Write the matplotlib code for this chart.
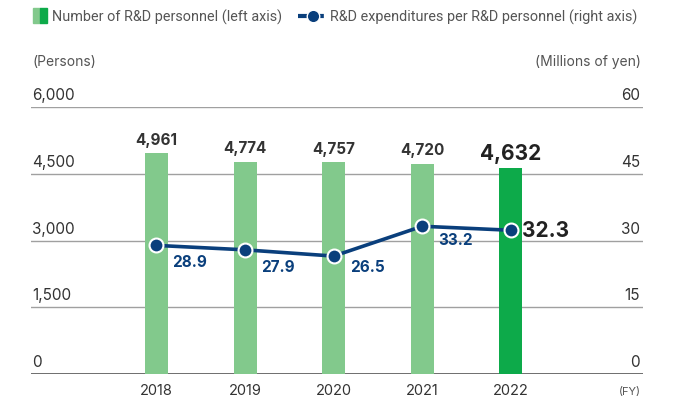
import matplotlib
matplotlib.use("Agg")
import matplotlib.pyplot as plt
from matplotlib.patches import Rectangle
from matplotlib.lines import Line2D
from matplotlib.transforms import blended_transform_factory

plt.rcParams['font.family'] = ['Inter', 'DejaVu Sans']

years = ["2018", "2019", "2020", "2021", "2022"]
personnel = [4961, 4774, 4757, 4720, 4632]
per_person = [28.9, 27.9, 26.5, 33.2, 32.3]
left_ticks = [0, 1500, 3000, 4500, 6000]
right_ticks = [0, 15, 30, 45, 60]

light_green = "#82c98c"
dark_green = "#0daa4a"
navy = "#0a3f7c"
gray_text = "#555555"

W, H = 673, 402
fig = plt.figure(figsize=(W / 100, H / 100), dpi=100)
ax = fig.add_axes([31 / W, 1 - 375 / H, (643 - 31) / W, (375 - 108) / H])
ax2 = ax.twinx()

x = list(range(len(years)))
colors = [light_green] * 4 + [dark_green]
ax.bar(x, personnel, width=0.26, color=colors, zorder=2)
ax.set_xlim(-1.416, 5.49)
ax.set_ylim(0, 6000)
ax2.set_ylim(0, 60)

for t in left_ticks:
    ax.axhline(t, color="#555555" if t == 0 else "#a0a0a0", lw=1.2 if t == 0 else 1.0, zorder=1)
    ax.text(0.002, t + 110, f"{t:,}", transform=ax.get_yaxis_transform(),
            ha="left", va="bottom", fontsize=11, color="#333333")
for t in right_ticks:
    ax2.text(0.995, t + 1.1, f"{t}", transform=ax2.get_yaxis_transform(),
             ha="right", va="bottom", fontsize=11, color="#333333")

for a in (ax, ax2):
    a.set_yticks([])
    a.set_xticks([])
    for s in a.spines.values():
        s.set_visible(False)

year_tr = blended_transform_factory(ax.transData, fig.transFigure)
for i, y in enumerate(years):
    fig.text(i, 1 - 391 / H, y, transform=year_tr, ha="center", va="center",
             fontsize=10.5, color="#333333")

for i, v in enumerate(personnel):
    if i == 4:
        ax.text(i, v + 120, f"{v:,}", ha="center", va="bottom", fontsize=15,
                fontweight="bold", color="#222222")
    else:
        ax.text(i, v + 150, f"{v:,}", ha="center", va="bottom", fontsize=11,
                fontweight="bold", color="#333333")

ax2.plot(x, per_person, color=navy, lw=2.6, marker="o", markersize=10,
         markerfacecolor=navy, markeredgecolor="white", markeredgewidth=1.5, zorder=4)
label_drop = [16, 17, 10, 13]  # pixels below marker
for i, v in enumerate(per_person):
    if i == 4:
        ax2.annotate(f"{v}", (i, v), xytext=(11, 0), textcoords="offset pixels",
                     ha="left", va="center", fontsize=15, fontweight="bold", color="#222222")
    else:
        ax2.annotate(f"{v}", (i, v), xytext=(16, -label_drop[i]), textcoords="offset pixels",
                     ha="left", va="center", fontsize=11, fontweight="bold", color=navy)

# units
fig.text(32 / W, 1 - 62 / H, "(Persons)", ha="left", va="center", fontsize=10, color=gray_text)
fig.text(641 / W, 1 - 62 / H, "(Millions of yen)", ha="right", va="center", fontsize=10, color=gray_text)
fig.text(641 / W, 1 - 392 / H, "(FY)", ha="right", va="center", fontsize=8, color=gray_text)

# legend
leg_font = ['Roboto', 'DejaVu Sans']
fig.patches.append(Rectangle((33 / W, 1 - 24 / H), 7 / W, 15 / H, color=light_green,
                             transform=fig.transFigure, figure=fig))
fig.patches.append(Rectangle((40 / W, 1 - 24 / H), 7 / W, 15 / H, color=dark_green,
                             transform=fig.transFigure, figure=fig))
fig.text(52 / W, 1 - 17 / H, "Number of R&D personnel (left axis)", ha="left", va="center",
         fontsize=10.4, color=gray_text, family=leg_font)
fig.lines.append(Line2D([298 / W, 328 / W], [1 - 17 / H, 1 - 17 / H], color=navy, lw=3,
                        dashes=(2.5, 1.2), transform=fig.transFigure, figure=fig))
fig.lines.append(Line2D([313 / W], [1 - 17 / H], marker="o", markersize=9, color=navy,
                        markeredgecolor="white", markeredgewidth=1.0,
                        transform=fig.transFigure, figure=fig))
fig.text(330 / W, 1 - 17 / H, "R&D expenditures per R&D personnel (right axis)", ha="left",
         va="center", fontsize=10.4, color=gray_text, family=leg_font)

fig.savefig("out.png", dpi=100)
